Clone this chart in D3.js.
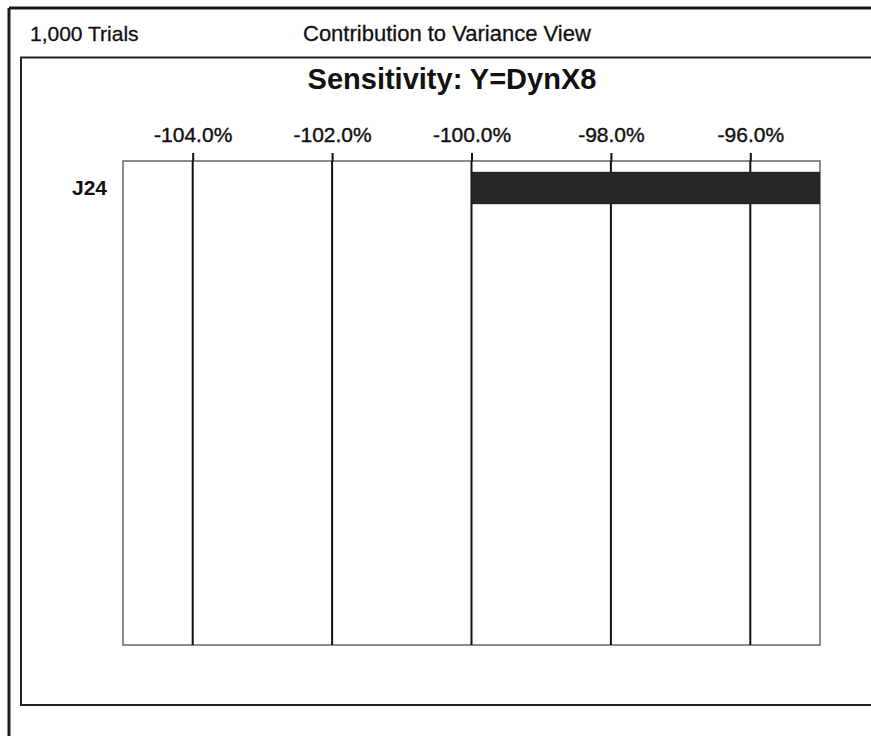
<!DOCTYPE html>
<html>
<head>
<meta charset="utf-8">
<script src="https://cdnjs.cloudflare.com/ajax/libs/d3/7.8.5/d3.min.js"></script>
<style>
  html, body { margin: 0; padding: 0; background: #fff; }
  svg { display: block; }
  text { font-family: "Liberation Sans", Arial, sans-serif; fill: #111; }
</style>
</head>
<body>
<svg id="chart" width="871" height="736"></svg>
<script>
// chart values
var categories = ["J24"];
var values = [-100.0];
var tickValues = [-104, -102, -100, -98, -96];
var axisDomain = [-105, -95];
var headerLeft = "1,000 Trials";
var headerCenter = "Contribution to Variance View";
var chartTitle = "Sensitivity: Y=DynX8";

var svg = d3.select("#chart");

// plot box
var plotLeft = 123, plotRight = 820, plotTop = 161, plotBottom = 645;

var x = d3.scaleLinear()
    .domain(axisDomain)
    .range([plotLeft, plotRight])
    .clamp(true);

var y = d3.scaleBand()
    .domain(categories)
    .range([plotTop, plotTop + 54])
    .padding(0.25);

// plain hyphen instead of unicode minus
var pct = d3.formatLocale({decimal: ".", thousands: ",", grouping: [3], currency: ["", ""], minus: "-"}).format(".1f");

// window frame
svg.append("line")
    .attr("x1", 9).attr("y1", 8).attr("x2", 9).attr("y2", 736)
    .attr("stroke", "#1a1a1a").attr("stroke-width", 3);
svg.append("line")
    .attr("x1", 9).attr("y1", 8).attr("x2", 871).attr("y2", 8)
    .attr("stroke", "#1a1a1a").attr("stroke-width", 3);
svg.append("path")
    .attr("d", "M871,57.5 H21 V705 H871")
    .attr("fill", "none")
    .attr("stroke", "#222").attr("stroke-width", 2);

// header texts
svg.append("text")
    .attr("x", 30).attr("y", 41)
    .attr("font-size", 21)
    .attr("stroke", "#111").attr("stroke-width", 0.3)
    .text(headerLeft);
svg.append("text")
    .attr("x", 303).attr("y", 41)
    .attr("font-size", 22)
    .attr("stroke", "#111").attr("stroke-width", 0.3)
    .text(headerCenter);

// title
svg.append("text")
    .attr("x", 452).attr("y", 89)
    .attr("text-anchor", "middle")
    .attr("font-size", 29)
    .attr("font-weight", "bold")
    .text(chartTitle);

// plot border
svg.append("rect")
    .attr("x", plotLeft).attr("y", plotTop)
    .attr("width", plotRight - plotLeft)
    .attr("height", plotBottom - plotTop)
    .attr("fill", "none")
    .attr("stroke", "#666").attr("stroke-width", 1.5);

// top axis with tick marks above the box
var axis = d3.axisTop(x)
    .tickValues(tickValues)
    .tickSize(plotTop - 153)
    .tickPadding(10)
    .tickFormat(function(d){ return pct(d) + "%"; });

var gAxis = svg.append("g")
    .attr("transform", "translate(0," + plotTop + ")")
    .call(axis);
gAxis.select(".domain").remove();
gAxis.selectAll(".tick line")
    .attr("stroke", "#111").attr("stroke-width", 2);
gAxis.selectAll(".tick text")
    .attr("y", -19)
    .attr("font-size", 21)
    .attr("font-family", "Liberation Sans, Arial, sans-serif")
    .attr("fill", "#111")
    .attr("stroke", "#111").attr("stroke-width", 0.4);

// gridlines
svg.selectAll(".grid")
    .data(tickValues)
    .enter().append("line")
    .attr("class", "grid")
    .attr("x1", function(d){ return x(d); })
    .attr("x2", function(d){ return x(d); })
    .attr("y1", plotTop)
    .attr("y2", plotBottom)
    .attr("stroke", "#111").attr("stroke-width", 2);

// bars, from value toward zero, clamped at axis edge
svg.selectAll(".bar")
    .data(values)
    .enter().append("rect")
    .attr("class", "bar")
    .attr("x", function(d){ return Math.min(x(d), x(0)); })
    .attr("y", function(d, i){ return y(categories[i]); })
    .attr("width", function(d){ return Math.abs(x(0) - x(d)); })
    .attr("height", y.bandwidth())
    .attr("fill", "#262626");

// category labels
svg.selectAll(".cat")
    .data(categories)
    .enter().append("text")
    .attr("class", "cat")
    .attr("x", 107)
    .attr("y", function(d){ return y(d) + y.bandwidth() / 2 + 7; })
    .attr("text-anchor", "end")
    .attr("font-size", 21)
    .attr("font-weight", "bold")
    .text(function(d){ return d; });
</script>
</body>
</html>
